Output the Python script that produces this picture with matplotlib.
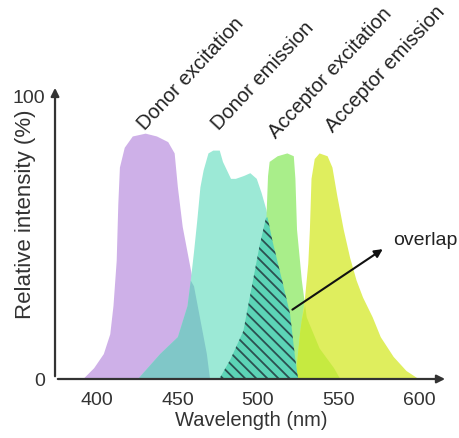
import matplotlib.pyplot as plt
import numpy as np

plt.rcParams['font.family'] = ['Liberation Sans', 'DejaVu Sans']

# spectra outlines: wavelength (nm) and relative intensity (%)
donor_ex_wl = [391, 398, 404, 408, 410, 412, 413, 414, 417, 422, 430, 437, 444, 448, 450, 453, 457, 460, 464, 468, 470]
donor_ex_int = [0, 4, 9, 16, 26, 42, 62, 75, 82, 86, 87, 86, 84, 80, 68, 54, 42, 33, 21, 9, 0]

donor_em_wl = [425, 439, 450, 456, 458, 460, 462, 464, 466, 469, 472, 476, 478, 483, 486, 491, 495, 499, 502, 505, 509, 515, 520, 523, 525]
donor_em_int = [0, 9, 15, 26, 35, 45, 56, 68, 74, 80, 81, 81, 77, 71, 71, 72, 73, 71, 66, 60, 49, 35, 23, 8, 0]

acc_ex_wl = [476, 483, 491, 497, 501, 505, 506, 507, 512, 518, 522, 523, 524, 527, 530, 538, 547, 551]
acc_ex_int = [0, 7, 17, 35, 47, 57, 72, 77, 79, 80, 79, 71, 53, 35, 22, 11, 4, 0]

acc_em_wl = [523, 526, 529, 531, 532, 533, 535, 538, 543, 546, 549, 553, 557, 561, 565, 571, 576, 584, 592, 600]
acc_em_int = [0, 17, 29, 41, 53, 71, 78, 80, 79, 75, 65, 53, 43, 35, 29, 22, 15, 8, 3, 0]

labels = ['Donor excitation', 'Donor emission', 'Acceptor excitation', 'Acceptor emission']
label_wl = [430, 476, 511, 547]
label_int = [87.6, 87.6, 84.7, 87]

xticks = [400, 450, 500, 550, 600]


def overlap(wl_a, int_a, wl_b, int_b):
    lo = max(wl_a[0], wl_b[0])
    hi = min(wl_a[-1], wl_b[-1])
    grid = np.unique(np.concatenate([wl_a, wl_b]))
    grid = grid[(grid >= lo) & (grid <= hi)]
    return grid, np.minimum(np.interp(grid, wl_a, int_a), np.interp(grid, wl_b, int_b))


fig = plt.figure(figsize=(4.6, 4.38), dpi=100)
ax = fig.add_axes([0.1196, 0.1347, 0.854, 0.671])

ax.fill_between(donor_ex_wl, donor_ex_int, color='#ceb0e8', lw=0)
ax.fill_between(donor_em_wl, donor_em_int, color='#9ce9d6', lw=0)
w, v = overlap(donor_ex_wl, donor_ex_int, donor_em_wl, donor_em_int)
ax.fill_between(w, v, color='#80c7c8', lw=0)

ax.fill_between(acc_ex_wl, acc_ex_int, color='#a9ee8a', lw=0)
ax.fill_between(acc_em_wl, acc_em_int, color='#dfee5e', lw=0)
w, v = overlap(acc_ex_wl, acc_ex_int, acc_em_wl, acc_em_int)
ax.fill_between(w, v, color='#c6ea40', lw=0)

plt.rcParams['hatch.linewidth'] = 1.3
w, v = overlap(donor_em_wl, donor_em_int, acc_ex_wl, acc_ex_int)
ax.fill_between(w, v, facecolor='#5cd4b6', edgecolor='#2b5050', hatch='\\\\\\', lw=0)

for t, x, y in zip(labels, label_wl, label_int):
    ax.text(x, y, t, rotation=47, rotation_mode='anchor', ha='left', va='baseline',
            fontsize=14.5, color='#222222', clip_on=False)

ax.annotate('', xy=(579, 46.5), xytext=(520, 24),
            arrowprops=dict(arrowstyle='-|>', color='#111111', lw=1.5, mutation_scale=12))
ax.text(584, 49, 'overlap', fontsize=14, color='#222222', va='center')

ax.set_xlim(374, 618)
ax.set_ylim(0, 104)
for s in ax.spines.values():
    s.set_visible(False)
ax.annotate('', xy=(1, 0), xytext=(0, 0), xycoords='axes fraction',
            arrowprops=dict(arrowstyle='-|>', color='#333333', lw=1.6, mutation_scale=12))
ax.annotate('', xy=(0, 1), xytext=(0, 0), xycoords='axes fraction',
            arrowprops=dict(arrowstyle='-|>', color='#333333', lw=1.6, mutation_scale=12))

ax.set_xticks(xticks)
ax.set_yticks([0, 100])
ax.tick_params(length=0, labelsize=14, labelcolor='#333333')
ax.tick_params(axis='x', pad=9)
ax.tick_params(axis='y', pad=7)
ax.set_xlabel('Wavelength (nm)', fontsize=14.5, color='#333333', labelpad=2)
ax.set_ylabel('Relative intensity (%)', fontsize=16, color='#333333')
ax.yaxis.set_label_coords(-0.048, 0.56)

fig.savefig('out.png')
